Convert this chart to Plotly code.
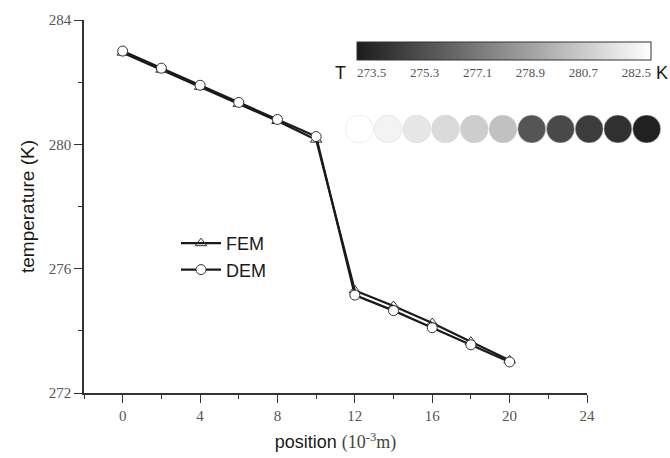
import plotly.graph_objects as go

position = [0, 2, 4, 6, 8, 10, 12, 14, 16, 18, 20]
fem_temp = [282.95, 282.4, 281.85, 281.3, 280.75, 280.15, 275.3, 274.8, 274.25, 273.65, 273.05]
dem_temp = [283.0, 282.45, 281.9, 281.35, 280.8, 280.25, 275.15, 274.65, 274.1, 273.55, 273.0]
particle_index = list(range(1, 12))
particle_temp = [283.0, 282.45, 281.9, 281.35, 280.8, 280.25, 275.5, 275.0, 274.4, 273.9, 273.2]
cbar_ticks = [273.5, 275.3, 277.1, 278.9, 280.7, 282.5]
x_ticks = [0, 4, 8, 12, 16, 20, 24]
y_ticks = [272, 276, 280, 284]

serif = "Liberation Serif"
sans = "Liberation Sans"

# layout geometry helpers (pixels)
W, H = 670, 458
L, R, T, B = 84, 5, 20, 65
PW = W - L - R
PH = H - T - B


def px(x):
    return (x - L) / PW


def py(y):
    return (H - B - y) / PH


fig = go.Figure()
fig.add_trace(go.Scatter(
    x=position, y=fem_temp, name="FEM", mode="lines+markers",
    line=dict(color="#1a1a1a", width=2.2),
    marker=dict(symbol="triangle-up-open", size=10, color="#333333", line=dict(width=1))))
fig.add_trace(go.Scatter(
    x=position, y=dem_temp, name="DEM", mode="lines+markers",
    line=dict(color="#1a1a1a", width=2.2),
    marker=dict(symbol="circle", size=10, color="white", line=dict(color="#333333", width=1))))

fig.add_trace(go.Scatter(
    x=particle_index, y=[0] * len(particle_index), mode="markers", showlegend=False,
    xaxis="x2", yaxis="y2",
    marker=dict(size=28, color=particle_temp, cmin=273.0, cmax=283.0,
                colorscale=[[0, "#1c1c1c"], [1, "#ffffff"]],
                line=dict(width=0.5, color="#dddddd"),
                colorbar=dict(orientation="h", x=px(357), xanchor="left",
                              y=py(42), yanchor="top",
                              lenmode="pixels", len=294, thickness=18,
                              thicknessmode="pixels",
                              outlinecolor="#333333", outlinewidth=1,
                              tickvals=cbar_ticks, ticktext=[f"{t:.1f}" for t in cbar_ticks],
                              ticks="", ticklabelposition="outside bottom",
                              tickfont=dict(family=serif, size=13, color="#555555"),
                              xpad=0, ypad=0))))

fig.update_layout(
    width=W, height=H,
    margin=dict(l=L, r=R, t=T, b=B, autoexpand=False),
    paper_bgcolor="white", plot_bgcolor="white",
    showlegend=True,
    legend=dict(x=px(176), y=py(225), xanchor="left", yanchor="top",
                font=dict(family=sans, size=18, color="#1a1a1a"),
                bgcolor="rgba(0,0,0,0)", itemwidth=40),
    xaxis=dict(domain=[0, px(587)], range=[-2, 24], tickvals=x_ticks, showgrid=False, zeroline=False,
               showline=True, linecolor="#333333", linewidth=1.5,
               ticks="outside", ticklen=8, tickwidth=1.2, tickcolor="#333333",
               minor=dict(dtick=2, ticks="outside", ticklen=4, tickcolor="#333333", showgrid=False),
               tickfont=dict(family=serif, size=15, color="#555555"),
               title=dict(text="position <span style='font-family:Liberation Serif;color:#444444'>(10<sup>-3</sup>m)</span>",
                          font=dict(family=sans, size=18, color="#1a1a1a"), standoff=13)),
    yaxis=dict(range=[272, 284], tickvals=y_ticks, showgrid=False, zeroline=False,
               showline=True, linecolor="#333333", linewidth=1.5,
               ticks="outside", ticklen=8, tickwidth=1.2, tickcolor="#333333",
               minor=dict(dtick=2, ticks="outside", ticklen=4, tickcolor="#333333", showgrid=False),
               tickfont=dict(family=serif, size=15, color="#555555"),
               title=dict(text="temperature (K)", font=dict(family=sans, size=19, color="#1a1a1a"),
                          standoff=9)),
    xaxis2=dict(domain=[px(345), px(661)], range=[0.5, 11.5], visible=False, anchor="y2"),
    yaxis2=dict(domain=[py(143), py(115)], range=[-1, 1], visible=False, anchor="x2"),
)

fig.add_annotation(text="T", x=px(340), y=py(73), xref="paper", yref="paper",
                   xanchor="center", yanchor="middle",
                   showarrow=False, font=dict(family=sans, size=18, color="#1a1a1a"))
fig.add_annotation(text="K", x=px(662), y=py(73), xref="paper", yref="paper",
                   xanchor="center", yanchor="middle",
                   showarrow=False, font=dict(family=sans, size=18, color="#1a1a1a"))

fig.write_html("out.html")
